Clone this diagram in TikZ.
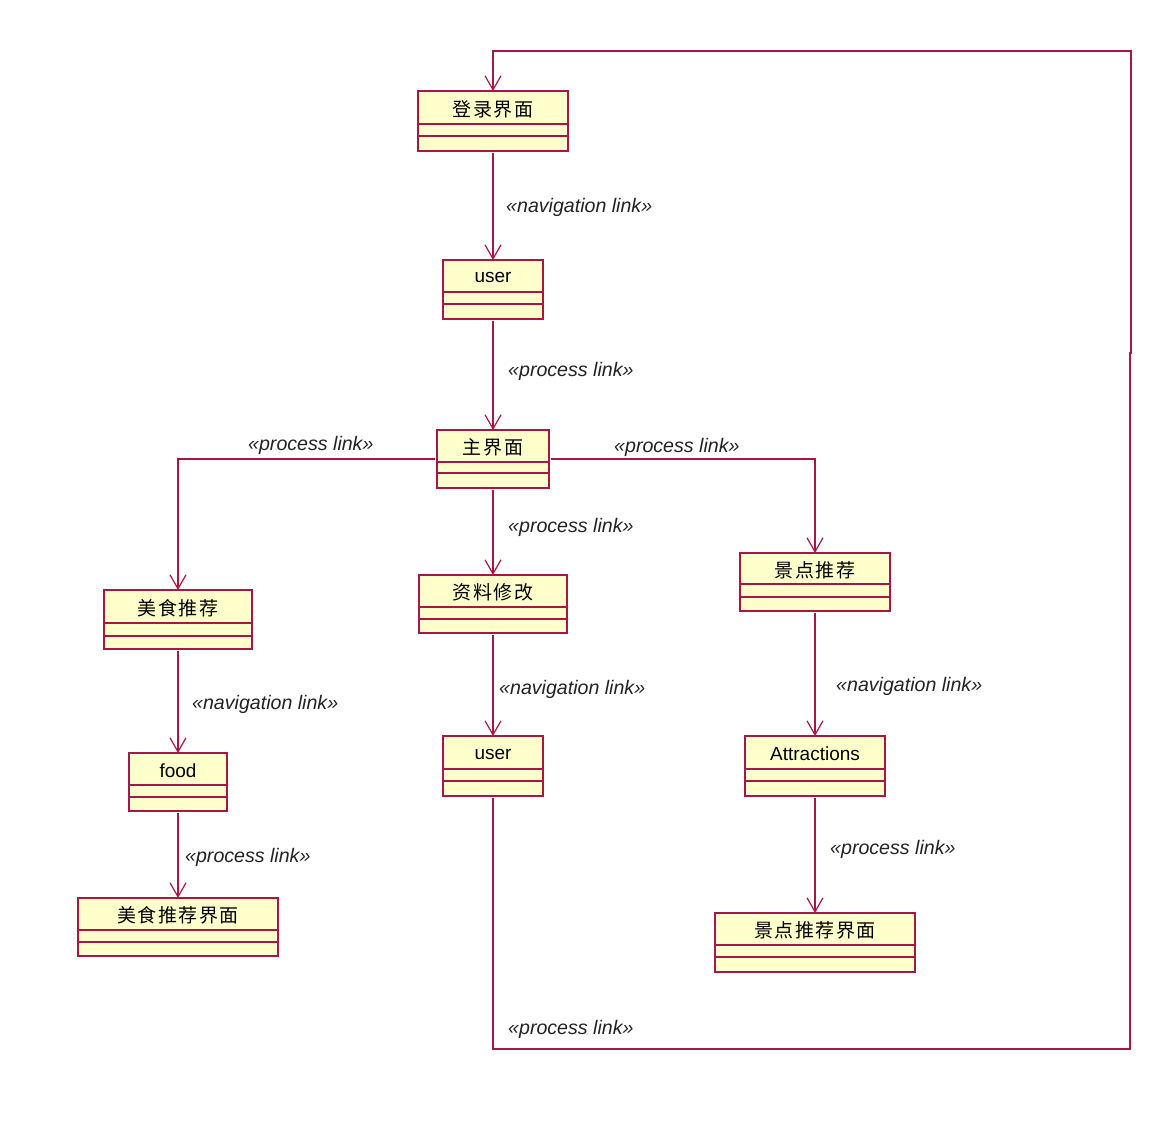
\documentclass[tikz,border=0pt]{standalone}
\usepackage{fontspec}
\setmainfont{Liberation Sans}
\newfontfamily\cjk[LetterSpace=8]{Noto Sans CJK SC}
\usetikzlibrary{arrows.meta}
\definecolor{umlborder}{RGB}{168,22,72}
\definecolor{umlfill}{RGB}{255,255,204}
\definecolor{labeltext}{RGB}{35,35,35}
\tikzset{
  classbox/.style={draw=umlborder, fill=umlfill, line width=1.3pt, inner sep=0pt, outer sep=0pt, rectangle},
  divline/.style={draw=umlborder, line width=1.3pt},
  nametext/.style={inner sep=0pt, text=black, font=\fontsize{19}{22}\selectfont},
  cjktext/.style={inner sep=0pt, text=black, font=\cjk\fontsize{19}{22}\selectfont},
  stereo/.style={inner sep=0pt, anchor=west, text=labeltext, font=\itshape\fontsize{19.6}{22}\selectfont},
  link/.style={draw=umlborder, line width=1.2pt, shorten <=2pt, -{Straight Barb[length=14pt,width=16pt]}},
}
\newcommand\umlbox[8]{%
  \node[classbox, minimum width={#4-#2}, minimum height={#5-#3}] (#1) at ({(#2+#4)/2},{(#3+#5)/2}) {};
  \draw[divline] (#2,#6) -- (#4,#6);
  \draw[divline] (#2,#7) -- (#4,#7);
  \node[#8] (#1-t) at ({(#2+#4)/2},{(#3+#6)/2+1.5})}
\begin{document}
\begin{tikzpicture}[x=1pt,y=-1pt]
\useasboundingbox[fill=white] (0,0) rectangle (1162,1127);
% classes
\umlbox{login}{418}{91}{568}{151}{124}{136}{cjktext}{登录界面};
\umlbox{userA}{443}{260}{543}{319}{292}{304}{nametext}{user};
\umlbox{main}{437}{430}{549}{488}{462}{473}{cjktext}{主界面};
\umlbox{food1}{104}{590}{252}{649}{623}{636}{cjktext}{美食推荐};
\umlbox{edit}{419}{575}{567}{633}{607}{619}{cjktext}{资料修改};
\umlbox{spot1}{740}{553}{890}{611}{584}{597}{cjktext}{景点推荐};
\umlbox{food}{129}{753}{227}{811}{785}{797}{nametext}{food};
\umlbox{userB}{443}{736}{543}{796}{769}{781}{nametext}{user};
\umlbox{attr}{745}{736}{885}{796}{769}{781}{nametext}{Attractions};
\umlbox{foodui}{78}{898}{278}{956}{930}{942}{cjktext}{美食推荐界面};
\umlbox{spotui}{715}{913}{915}{972}{945}{957}{cjktext}{景点推荐界面};
% connectors
\draw[link] (login.south) -- (userA.north);
\draw[link] (userA.south) -- (main.north);
\draw[link] (main.west) -| (food1.north);
\draw[link] (main.east) -| (spot1.north);
\draw[link] (main.south) -- (edit.north);
\draw[link] (edit.south) -- (userB.north);
\draw[link] (spot1.south) -- (attr.north);
\draw[link] (food1.south) -- (food.north);
\draw[link] (food.south) -- (foodui.north);
\draw[link] (attr.south) -- (spotui.north);
\draw[link] (userB.south) -- (userB.south |- 0,1049) -- (1130,1049) -- (1130,353) -- (1131,353) -- (1131,51) -- (login.north |- 0,51) -- (login.north);
% labels
\node[stereo] (s1) at (506,207) {«navigation link»};
\node[stereo] (s2) at (508,371) {«process link»};
\node[stereo] (s3) at (248,445) {«process link»};
\node[stereo] (s4) at (614,447) {«process link»};
\node[stereo] (s5) at (508,527) {«process link»};
\node[stereo] (s6) at (499,689) {«navigation link»};
\node[stereo] (s7) at (836,686) {«navigation link»};
\node[stereo] (s8) at (192,704) {«navigation link»};
\node[stereo] (s9) at (185,857) {«process link»};
\node[stereo] (s10) at (830,849) {«process link»};
\node[stereo] (s11) at (508,1029) {«process link»};
\end{tikzpicture}
\end{document}
